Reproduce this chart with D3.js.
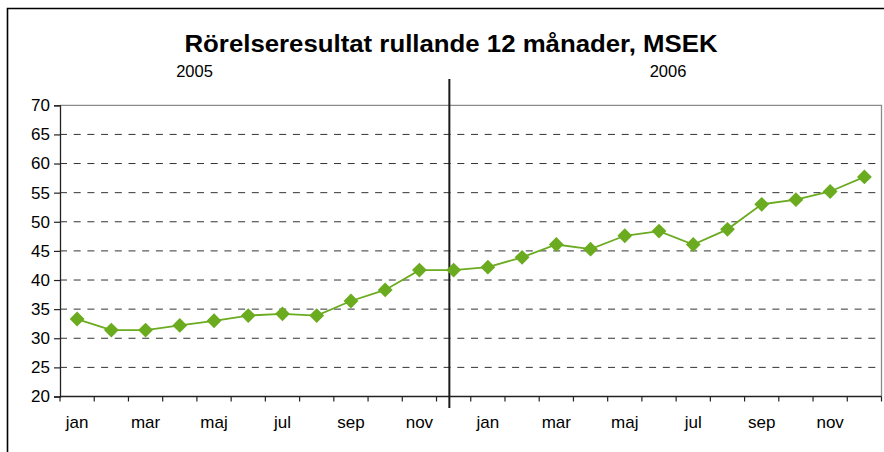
<!DOCTYPE html>
<html>
<head>
<meta charset="utf-8">
<script src="https://cdn.jsdelivr.net/npm/d3@7"></script>
<style>
  html, body { margin: 0; padding: 0; background: #fff; }
  svg { display: block; }
  text { font-family: "Liberation Sans", Arial, Helvetica, sans-serif; fill: #000; }
</style>
</head>
<body>
<svg id="chart" width="884" height="452"></svg>
<script>
// ---- data ----
const title = "Rörelseresultat rullande 12 månader, MSEK";
const years = ["2005", "2006"];
const months = ["jan","feb","mar","apr","maj","jun","jul","aug","sep","okt","nov","dec"];
const categories = years.flatMap(y => months.map(m => m + " " + y));
const values = [
  33.3, 31.4, 31.4, 32.2, 33.0, 33.9, 34.2, 33.9, 36.4, 38.3, 41.7, 41.7,
  42.2, 43.9, 46.1, 45.3, 47.6, 48.4, 46.1, 48.7, 53.0, 53.8, 55.2, 57.7
];
const yTicks = [20, 25, 30, 35, 40, 45, 50, 55, 60, 65, 70];
const xTickLabels = ["jan", "mar", "maj", "jul", "sep", "nov"];

// ---- layout ----
const svg = d3.select("#chart");
const mLeft = 60, mRight = 881.5, mTop = 105.3, mBottom = 396.5;
const green = "#6aab1f";

const x = d3.scaleBand().domain(categories).range([mLeft, mRight]).padding(0);
const y = d3.scaleLinear().domain([20, 70]).range([mBottom, mTop]);

// outer frame (top + left visible)
svg.append("path")
  .attr("d", `M7.5,460 L7.5,8.5 L890,8.5`)
  .attr("fill", "none").attr("stroke", "#000").attr("stroke-width", 1.6);

// title
svg.append("text")
  .attr("x", 451).attr("y", 52)
  .attr("text-anchor", "middle")
  .attr("font-size", 23).attr("font-weight", "bold")
  .attr("textLength", 533).attr("lengthAdjust", "spacingAndGlyphs")
  .text(title);

// year labels
const yearCenters = [194.5, 668];
svg.selectAll(".year").data(years).join("text")
  .attr("class", "year")
  .attr("x", (d, i) => yearCenters[i]).attr("y", 76.5)
  .attr("text-anchor", "middle")
  .attr("font-size", 16.5)
  .text(d => d);

// gridlines (dashed)
svg.append("g").selectAll("line").data(yTicks.filter(t => t > 20 && t < 70)).join("line")
  .attr("x1", mLeft).attr("x2", mRight)
  .attr("y1", d => y(d)).attr("y2", d => y(d))
  .attr("stroke", "#333").attr("stroke-width", 1)
  .attr("stroke-dasharray", "7,6.7");

// plot area top and right border (gray)
svg.append("path")
  .attr("d", `M${mLeft},${y(70)} L${mRight},${y(70)} L${mRight},${mBottom}`)
  .attr("fill", "none").attr("stroke", "#8a8a8a").attr("stroke-width", 1.3);

// y axis
const yAxis = d3.axisLeft(y).tickValues(yTicks).tickSize(6).tickPadding(4).tickFormat(d3.format("d"));
const gy = svg.append("g").attr("transform", `translate(${mLeft},0)`).call(yAxis);
gy.select(".domain").attr("stroke", "#222").attr("stroke-width", 1.3);
gy.selectAll(".tick line").attr("stroke", "#222").attr("stroke-width", 1.2);
gy.selectAll(".tick text").attr("font-size", 17).attr("font-family", "Liberation Sans, Arial, sans-serif").attr("fill", "#000");

// x axis: ticks at band boundaries
const boundaries = d3.range(categories.length + 1).map(i => mLeft + i * x.step());
svg.append("line")
  .attr("x1", mLeft).attr("x2", mRight).attr("y1", mBottom).attr("y2", mBottom)
  .attr("stroke", "#222").attr("stroke-width", 1.3);
svg.append("g").selectAll("line").data(boundaries).join("line")
  .attr("x1", d => d).attr("x2", d => d)
  .attr("y1", mBottom).attr("y2", mBottom + 5)
  .attr("stroke", "#222").attr("stroke-width", 1.2);

// x labels (every other month)
const labeled = categories.filter(c => xTickLabels.includes(c.split(" ")[0]));
svg.append("g").selectAll("text").data(labeled).join("text")
  .attr("x", d => x(d) + x.bandwidth() / 2)
  .attr("y", 427.5)
  .attr("text-anchor", "middle")
  .attr("font-size", 17)
  .text(d => d.split(" ")[0]);

// year separator
const sepX = x(categories[11]) + x.bandwidth() * 0.375;
svg.append("line")
  .attr("x1", sepX).attr("x2", sepX).attr("y1", 79).attr("y2", 408)
  .attr("stroke", "#1a1a1a").attr("stroke-width", 2);

// line
const cx = d => x(d) + x.bandwidth() / 2;
svg.append("path")
  .datum(values)
  .attr("d", d3.line().x((d, i) => cx(categories[i])).y(d => y(d)))
  .attr("fill", "none").attr("stroke", green).attr("stroke-width", 1.8);

// markers (diamonds)
const sym = d3.symbol().type(d3.symbolSquare).size(110);
svg.append("g").selectAll("path").data(values).join("path")
  .attr("d", sym)
  .attr("transform", (d, i) => `translate(${cx(categories[i])},${y(d)}) rotate(45)`)
  .attr("fill", green);
</script>
</body>
</html>
